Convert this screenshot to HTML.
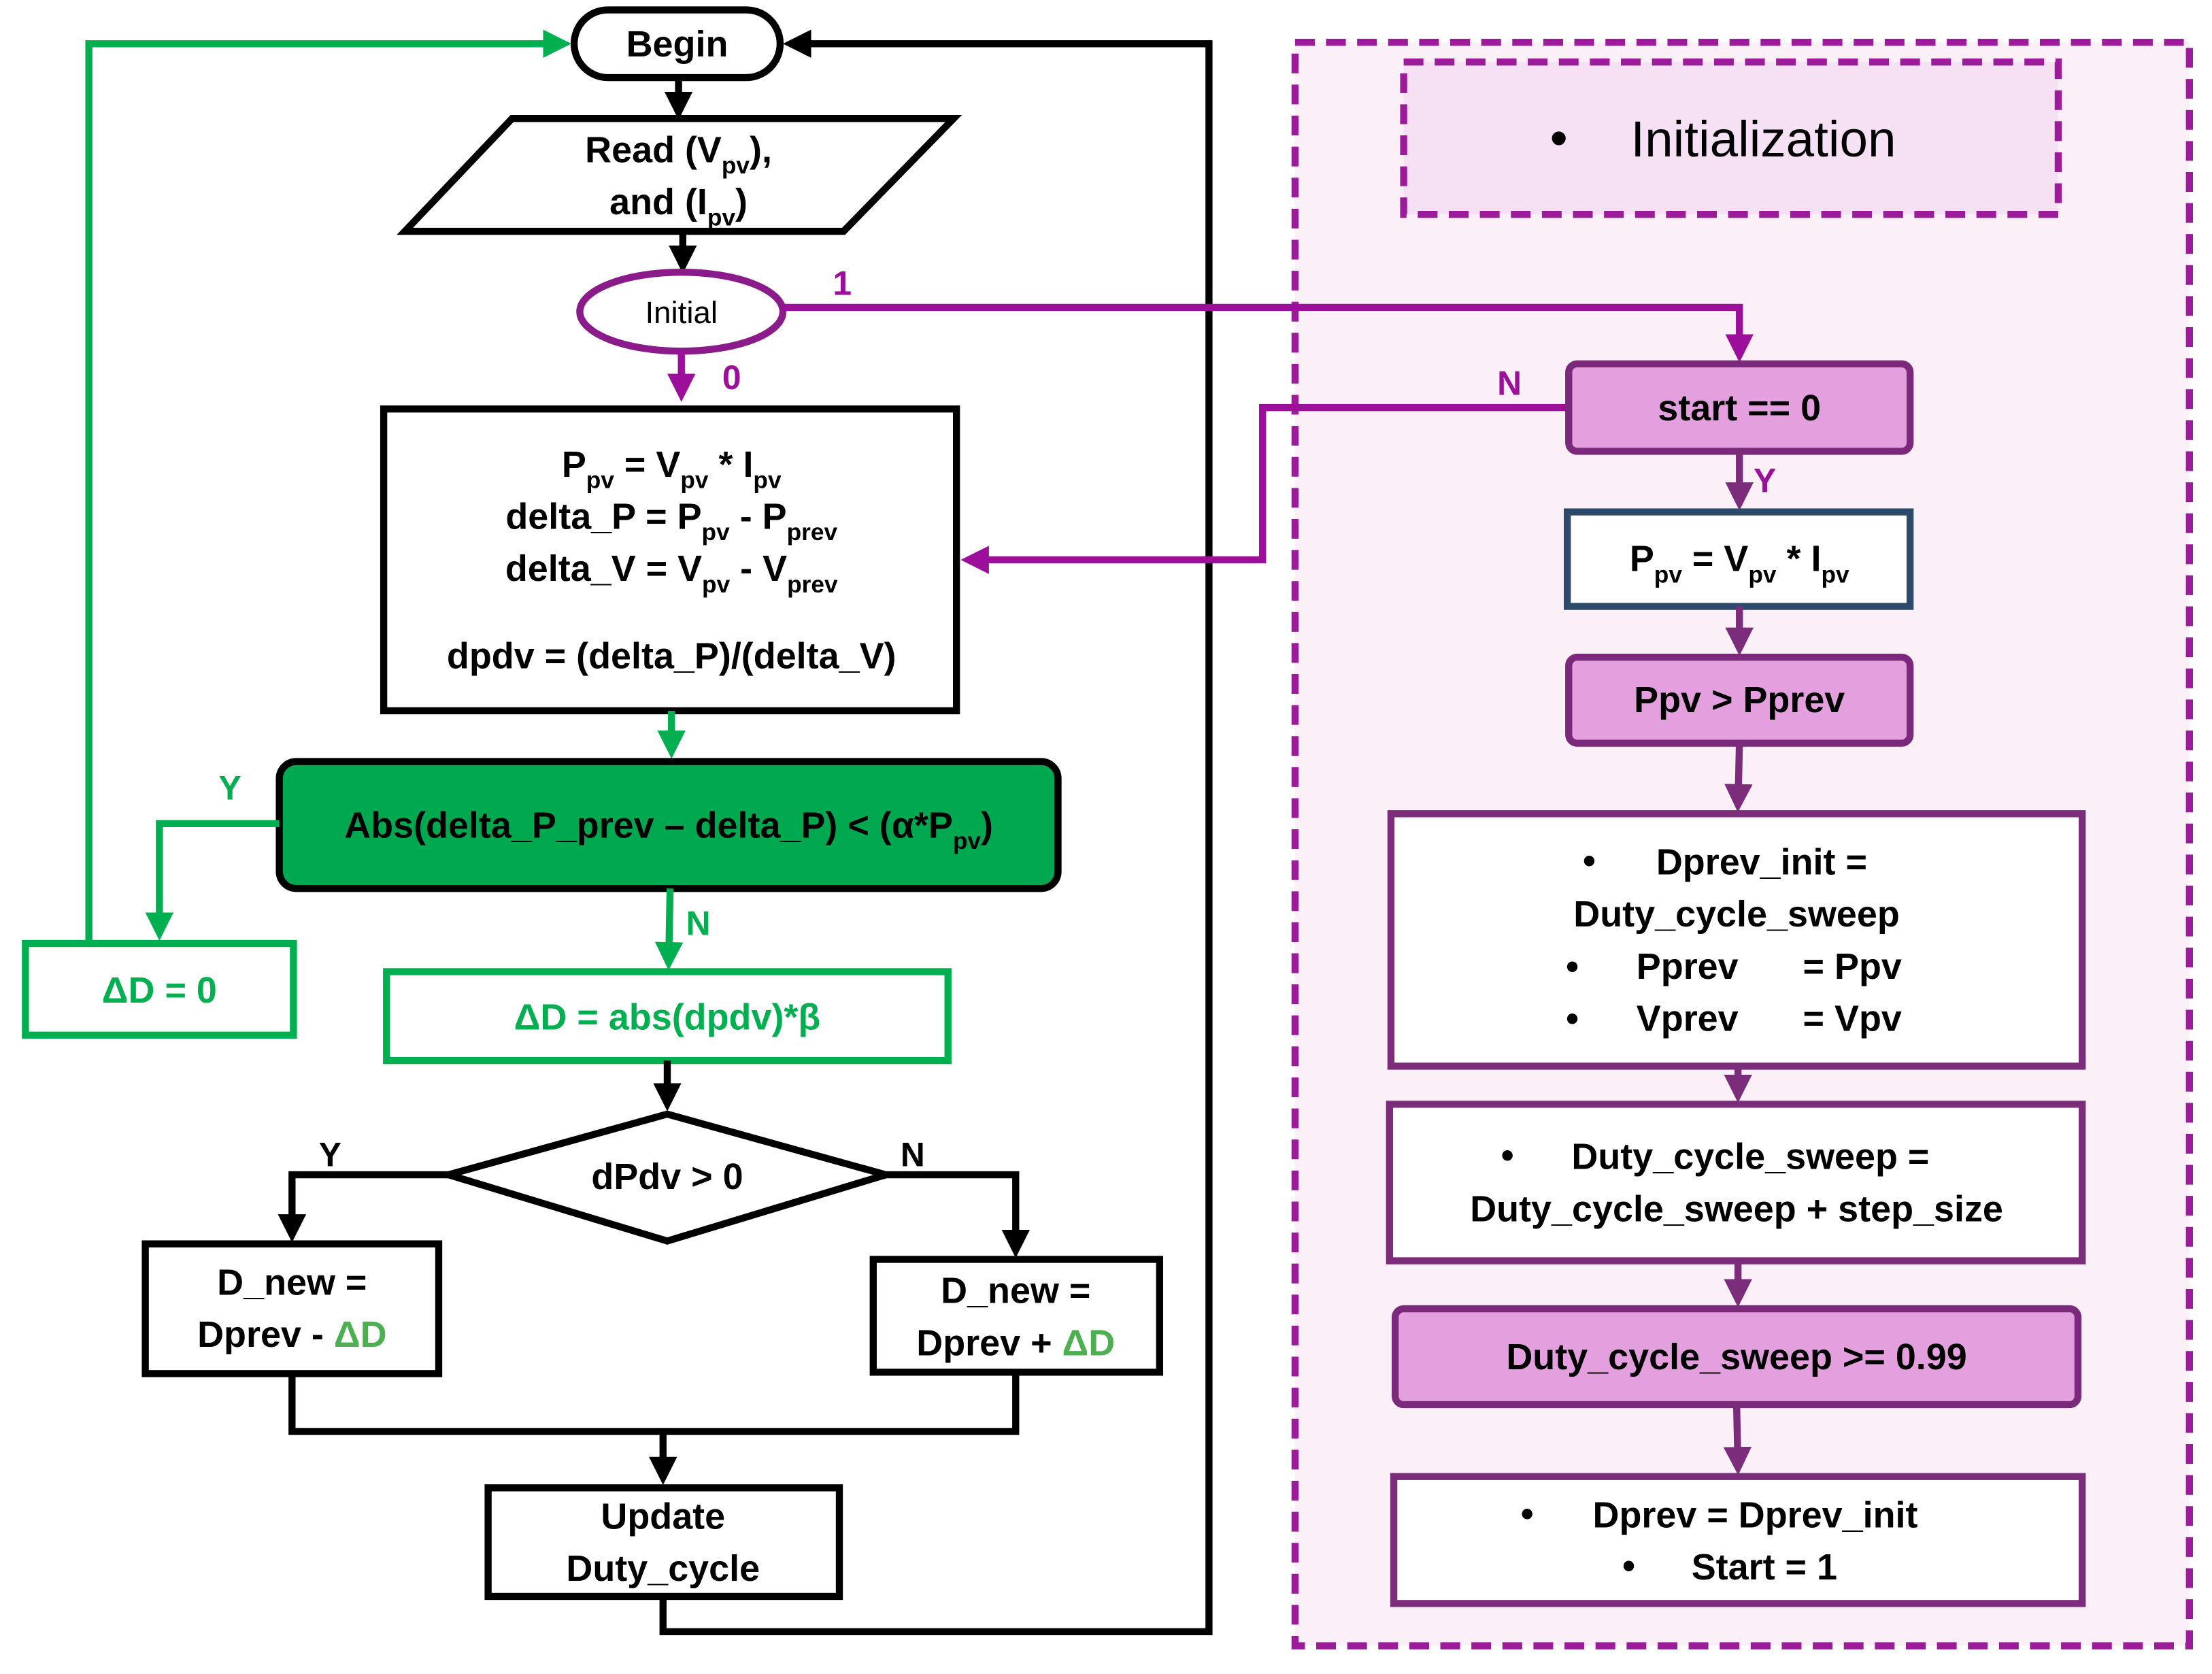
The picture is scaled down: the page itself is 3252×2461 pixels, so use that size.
<!DOCTYPE html>
<html><head><meta charset="utf-8"><style>html,body{margin:0;padding:0;background:#fff}svg{display:block}</style></head>
<body>
<svg width="3252" height="2461" viewBox="0 0 1568 1187" preserveAspectRatio="none" xmlns="http://www.w3.org/2000/svg" font-family="Liberation Sans, sans-serif" font-weight="bold">
<defs>
<marker id="ak" markerWidth="4" markerHeight="4" refX="3" refY="2" orient="auto" markerUnits="strokeWidth"><path d="M0,0 L4,2 L0,4 z" fill="#000"/></marker>
<marker id="ag" markerWidth="4" markerHeight="4" refX="3" refY="2" orient="auto" markerUnits="strokeWidth"><path d="M0,0 L4,2 L0,4 z" fill="#00B050"/></marker>
<marker id="ap" markerWidth="4" markerHeight="4" refX="3" refY="2" orient="auto" markerUnits="strokeWidth"><path d="M0,0 L4,2 L0,4 z" fill="#9B0F9B"/></marker>
<marker id="am" markerWidth="4" markerHeight="4" refX="3" refY="2" orient="auto" markerUnits="strokeWidth"><path d="M0,0 L4,2 L0,4 z" fill="#7B2C7B"/></marker>
</defs>
<!-- right region -->
<rect x="918" y="30" width="634" height="1137" fill="#FCF0F8" stroke="#9B1B9B" stroke-width="5" stroke-dasharray="14,8"/>
<rect x="995" y="44" width="464" height="108" fill="#F5E1F3" stroke="#9B1B9B" stroke-width="5" stroke-dasharray="14,8"/>
<text x="1105" y="110" font-size="36" font-weight="normal" text-anchor="middle">•</text>
<text x="1250" y="111" font-size="36" font-weight="normal" text-anchor="middle">Initialization</text>

<!-- loops -->
<polyline points="63,669 63,31 400,31" fill="none" stroke="#00B050" stroke-width="5" marker-end="url(#ag)"/>
<polyline points="470,1132 470,1157 857,1157 857,31 560,31" fill="none" stroke="#000" stroke-width="5" marker-end="url(#ak)"/>

<!-- left shapes -->
<rect x="407" y="7" width="146" height="48" rx="24" fill="#fff" stroke="#000" stroke-width="5"/>
<text x="480" y="40" font-size="26" text-anchor="middle">Begin</text>
<line x1="481" y1="55" x2="481" y2="80" stroke="#000" stroke-width="5" marker-end="url(#ak)"/>
<polygon points="287,164 363,84 676,84 598,164" fill="#fff" stroke="#000" stroke-width="5"/>
<text x="481" y="115" font-size="26" text-anchor="middle">Read (V<tspan font-size="17" dy="8">pv</tspan><tspan dy="-8">),</tspan></text>
<text x="481" y="152" font-size="26" text-anchor="middle">and (I<tspan font-size="17" dy="8">pv</tspan><tspan dy="-8">)</tspan></text>
<line x1="484" y1="164" x2="484" y2="189" stroke="#000" stroke-width="5" marker-end="url(#ak)"/>
<ellipse cx="483" cy="221" rx="72" ry="28" fill="#fff" stroke="#8B1A8B" stroke-width="5"/>
<text x="483" y="229" font-size="22" font-weight="normal" text-anchor="middle">Initial</text>
<line x1="483" y1="249" x2="483" y2="280" stroke="#9B0F9B" stroke-width="5" marker-end="url(#ap)"/>
<text x="512" y="276" font-size="24" fill="#9B0F9B">0</text>
<polyline points="555,218 1233,218 1233,252" fill="none" stroke="#9B0F9B" stroke-width="5" marker-end="url(#ap)"/>
<text x="597" y="209" font-size="24" fill="#9B0F9B" text-anchor="middle">1</text>

<rect x="272" y="290" width="406" height="214" fill="#fff" stroke="#000" stroke-width="5"/>
<g font-size="26" text-anchor="middle">
<text x="476" y="338">P<tspan font-size="17" dy="8">pv</tspan><tspan dy="-8"> = V</tspan><tspan font-size="17" dy="8">pv</tspan><tspan dy="-8"> * I</tspan><tspan font-size="17" dy="8">pv</tspan></text>
<text x="476" y="375">delta_P = P<tspan font-size="17" dy="8">pv</tspan><tspan dy="-8"> - P</tspan><tspan font-size="17" dy="8">prev</tspan></text>
<text x="476" y="412">delta_V = V<tspan font-size="17" dy="8">pv</tspan><tspan dy="-8"> - V</tspan><tspan font-size="17" dy="8">prev</tspan></text>
<text x="476" y="474">dpdv = (delta_P)/(delta_V)</text>
</g>
<polyline points="1112,289 895,289 895,397 686,397" fill="none" stroke="#9B0F9B" stroke-width="5" marker-end="url(#ap)"/>
<text x="1070" y="280" font-size="24" fill="#9B0F9B" text-anchor="middle">N</text>

<line x1="476" y1="504" x2="476" y2="533" stroke="#00B050" stroke-width="5" marker-end="url(#ag)"/>
<rect x="198" y="540" width="552" height="90" rx="12" fill="#00A84F" stroke="#000" stroke-width="5"/>
<text x="474" y="594" font-size="26" text-anchor="middle">Abs(delta_P_prev – delta_P) &lt; (α*P<tspan font-size="17" dy="8">pv</tspan><tspan dy="-8">)</tspan></text>
<polyline points="198,584 113,584 113,662" fill="none" stroke="#00B050" stroke-width="5" marker-end="url(#ag)"/>
<text x="163" y="567" font-size="24" fill="#00B050" text-anchor="middle">Y</text>
<line x1="475" y1="630" x2="474" y2="683" stroke="#00B050" stroke-width="5" marker-end="url(#ag)"/>
<text x="495" y="663" font-size="24" fill="#00B050" text-anchor="middle">N</text>
<rect x="18" y="669" width="190" height="65" fill="#fff" stroke="#00B050" stroke-width="5"/>
<text x="113" y="711" font-size="26" fill="#00B050" text-anchor="middle">ΔD = 0</text>
<rect x="274" y="689" width="398" height="63" fill="#fff" stroke="#00B050" stroke-width="5"/>
<text x="473" y="730" font-size="26" fill="#00B050" text-anchor="middle">ΔD = abs(dpdv)*β</text>
<line x1="473" y1="752" x2="473" y2="783" stroke="#000" stroke-width="5" marker-end="url(#ak)"/>
<polygon points="318,833 473,790 628,833 473,880" fill="#fff" stroke="#000" stroke-width="5"/>
<text x="473" y="843" font-size="26" text-anchor="middle">dPdv &gt; 0</text>
<polyline points="318,833 207,833 207,876" fill="none" stroke="#000" stroke-width="5" marker-end="url(#ak)"/>
<text x="234" y="827" font-size="24" text-anchor="middle">Y</text>
<polyline points="628,833 720,833 720,887" fill="none" stroke="#000" stroke-width="5" marker-end="url(#ak)"/>
<text x="647" y="827" font-size="24" text-anchor="middle">N</text>
<rect x="103" y="882" width="208" height="92" fill="#fff" stroke="#000" stroke-width="5"/>
<text x="207" y="918" font-size="26" text-anchor="middle">D_new =</text>
<text x="207" y="955" font-size="26" text-anchor="middle">Dprev - <tspan fill="#4CAF50">ΔD</tspan></text>
<rect x="619" y="893" width="203" height="80" fill="#fff" stroke="#000" stroke-width="5"/>
<text x="720" y="924" font-size="26" text-anchor="middle">D_new =</text>
<text x="720" y="961" font-size="26" text-anchor="middle">Dprev + <tspan fill="#4CAF50">ΔD</tspan></text>
<polyline points="207,974 207,1015 720,1015 720,973" fill="none" stroke="#000" stroke-width="5"/>
<line x1="470" y1="1015" x2="470" y2="1048" stroke="#000" stroke-width="5" marker-end="url(#ak)"/>
<rect x="346" y="1055" width="249" height="77" fill="#fff" stroke="#000" stroke-width="5"/>
<text x="470" y="1084" font-size="26" text-anchor="middle">Update</text>
<text x="470" y="1121" font-size="26" text-anchor="middle">Duty_cycle</text>

<!-- right flow -->
<rect x="1112" y="258" width="242" height="62" rx="6" fill="#E4A0DE" stroke="#7B2A7B" stroke-width="5"/>
<text x="1233" y="298" font-size="26" text-anchor="middle">start == 0</text>
<line x1="1233" y1="320" x2="1233" y2="357" stroke="#7B2C7B" stroke-width="5" marker-end="url(#am)"/>
<text x="1251" y="349" font-size="24" fill="#9B0F9B" text-anchor="middle">Y</text>
<rect x="1111" y="363" width="243" height="67" fill="#fff" stroke="#2E4A6B" stroke-width="5"/>
<text x="1233" y="405" font-size="26" text-anchor="middle">P<tspan font-size="17" dy="8">pv</tspan><tspan dy="-8"> = V</tspan><tspan font-size="17" dy="8">pv</tspan><tspan dy="-8"> * I</tspan><tspan font-size="17" dy="8">pv</tspan></text>
<line x1="1233" y1="430" x2="1233" y2="460" stroke="#7B2C7B" stroke-width="5" marker-end="url(#am)"/>
<rect x="1112" y="466" width="242" height="61" rx="6" fill="#E4A0DE" stroke="#7B2A7B" stroke-width="5"/>
<text x="1233" y="505" font-size="26" text-anchor="middle">Ppv &gt; Pprev</text>
<line x1="1233" y1="527" x2="1232" y2="571" stroke="#7B2C7B" stroke-width="5" marker-end="url(#am)"/>
<rect x="986" y="577" width="490" height="179" fill="#fff" stroke="#7B2C7B" stroke-width="5"/>
<g font-size="26">
<text x="1122" y="619">•</text><text x="1174" y="620">Dprev_init =</text>
<text x="1231" y="657" text-anchor="middle">Duty_cycle_sweep</text>
<text x="1110" y="694">•</text><text x="1160" y="694">Pprev</text><text x="1278" y="694">= Ppv</text>
<text x="1110" y="731">•</text><text x="1160" y="731">Vprev</text><text x="1278" y="731">= Vpv</text>
</g>
<line x1="1232" y1="756" x2="1232" y2="777" stroke="#7B2C7B" stroke-width="5" marker-end="url(#am)"/>
<rect x="985" y="783" width="491" height="111" fill="#fff" stroke="#7B2C7B" stroke-width="5"/>
<g font-size="26">
<text x="1064" y="828">•</text><text x="1114" y="829">Duty_cycle_sweep =</text>
<text x="1231" y="866" text-anchor="middle">Duty_cycle_sweep + step_size</text>
</g>
<line x1="1232" y1="894" x2="1232" y2="922" stroke="#7B2C7B" stroke-width="5" marker-end="url(#am)"/>
<rect x="989" y="928" width="484" height="68" rx="6" fill="#E4A0DE" stroke="#7B2A7B" stroke-width="5"/>
<text x="1231" y="971" font-size="26" text-anchor="middle">Duty_cycle_sweep &gt;= 0.99</text>
<line x1="1231" y1="996" x2="1232" y2="1041" stroke="#7B2C7B" stroke-width="5" marker-end="url(#am)"/>
<rect x="988" y="1047" width="488" height="90" fill="#fff" stroke="#7B2C7B" stroke-width="5"/>
<g font-size="26">
<text x="1078" y="1082">•</text><text x="1129" y="1083">Dprev = Dprev_init</text>
<text x="1150" y="1119">•</text><text x="1199" y="1120">Start = 1</text>
</g>
</svg>
</body></html>
